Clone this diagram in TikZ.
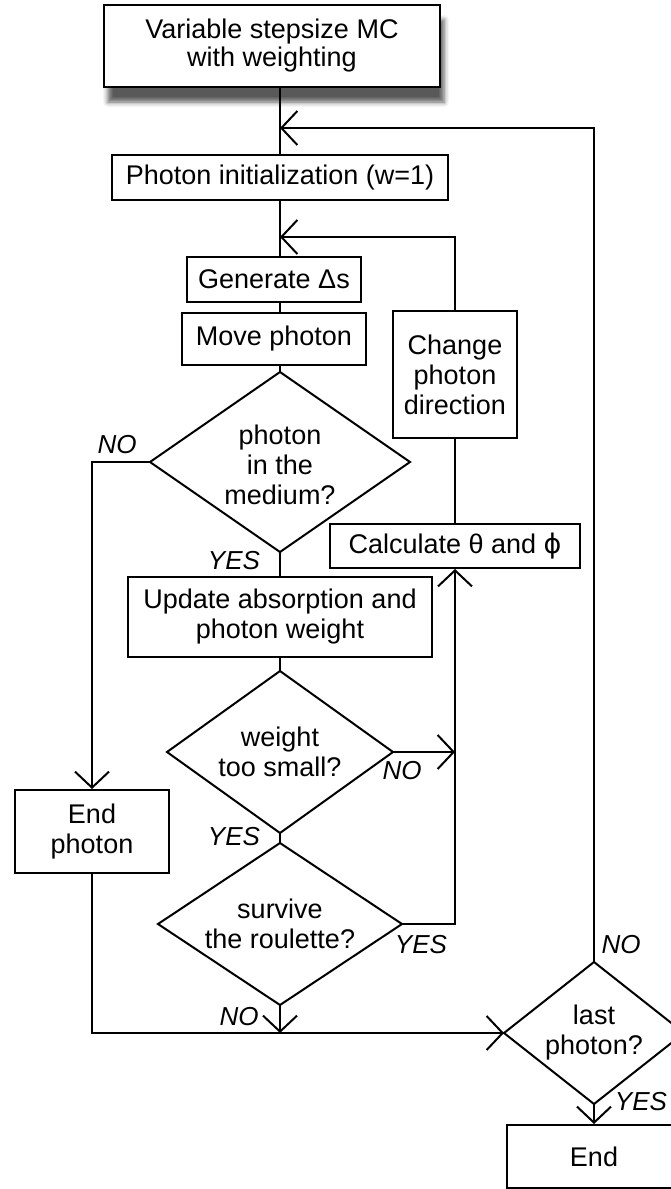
\documentclass[tikz,border=0pt]{standalone}
\usepackage{fontspec}
\setmainfont{Liberation Sans}
\newfontfamily\dvs{DejaVu Sans}
\usetikzlibrary{shapes.geometric,arrows.meta,shadows.blur}
\begin{document}
\begin{tikzpicture}[x=1pt,y=-1pt,
  box/.style={draw,line width=2pt,rectangle,inner sep=0pt,align=center,fill=white,font=\fontsize{27}{30}\selectfont},
  dia/.style={draw,line width=2pt,diamond,inner sep=0pt,outer sep=0pt},
  dtext/.style={inner sep=0pt,align=center,font=\fontsize{27}{30}\selectfont},
  lab/.style={inner sep=0pt,font=\fontsize{26}{28}\selectfont\itshape},
  conn/.style={line width=2pt},
  arr/.style={line width=2pt,-{Straight Barb[length=16pt,width=34pt]}}]
\useasboundingbox (0,0) rectangle (671,1189);
\clip (0,0) rectangle (671,1189);
% nodes
\node[box,minimum width=336,minimum height=82,font=\fontsize{27}{28}\selectfont,
  blur shadow={shadow xshift=4pt,shadow yshift=-15pt,shadow blur radius=5pt,shadow opacity=65}]
  (title) at (272,46) {Variable stepsize MC\\with weighting};
\node[box,minimum width=336,minimum height=45] (init) at (280,177.5) {Photon initialization (w=1)};
\node[box,minimum width=174,minimum height=45] (gen) at (274,279.5) {Generate Δs};
\node[box,minimum width=184,minimum height=52] (move) at (274,339) {Move photon};
\node[dia,minimum width=260,minimum height=180,
  label={[dtext,yshift=-3pt]center:{photon\\in the\\medium?}}] (d1) at (280,462) {};
\node[box,minimum width=124,minimum height=127] (chg) at (455,374.5) {Change\\photon\\direction};
\node[box,minimum width=250,minimum height=44] (calc) at (455,546) {Calculate θ and {\dvs ϕ}};
\node[box,minimum width=304,minimum height=80] (upd) at (280,617) {Update absorption and\\photon weight};
\node[dia,minimum width=226,minimum height=162,
  label={[dtext]center:{weight\\too small?}}] (d2) at (280,752) {};
\node[dia,minimum width=244,minimum height=162,
  label={[dtext]center:{survive\\the roulette?}}] (surv) at (280,924) {};
\node[box,minimum width=154,minimum height=83] (endph) at (92,831.5) {End\\photon};
\node[dia,minimum width=180,minimum height=142,
  label={[dtext]center:{last\\photon?}}] (last) at (594,1033) {};
\node[box,minimum width=174,minimum height=63] (fin) at (594,1156.5) {End};
% junctions
\coordinate (j1) at (280,128);
\coordinate (j2) at (280,237);
% connectors
\draw[conn] (init.north |- title.south) -- (init.north);
\draw[conn] (init.south) -- (init.south |- gen.north);
\draw[conn] (init.south |- gen.south) -- (init.south |- move.north);
\draw[conn] (d1.north |- move.south) -- (d1.north);
\draw[arr] (chg.north) -- (chg.north |- j2) -- (j2);
\draw[conn] (chg.south) -- (calc.north);
\draw[conn] (d1.south) -- (upd.north);
\draw[arr] (d1.west) -- (d1.west -| endph.north) -- (endph.north);
\draw[conn] (upd.south) -- (d2.north);
\draw[arr] (d2.east) -- (d2.east -| calc.south);
\draw[conn] (d2.south) -- (surv.north);
\draw[arr] (surv.east) -- (surv.east -| calc.south) -- (calc.south);
\draw[arr] (surv.south) -- (surv.south |- last.west);
\draw[arr] (endph.south) -- (endph.south |- last.west) -- (last.west);
\draw[arr] (last.south) -- (fin.north);
\draw[arr] (last.north) -- (last.north |- j1) -- (j1);
% labels
\node[lab] (l1) at (117,445) {NO};
\node[lab] (l2) at (234,561) {YES};
\node[lab] (l3) at (402,771) {NO};
\node[lab] (l4) at (234,837) {YES};
\node[lab] (l5) at (421,945) {YES};
\node[lab] (l6) at (239,1017) {NO};
\node[lab] (l7) at (621,945) {NO};
\node[lab] (l8) at (641,1102) {YES};
\end{tikzpicture}
\end{document}
